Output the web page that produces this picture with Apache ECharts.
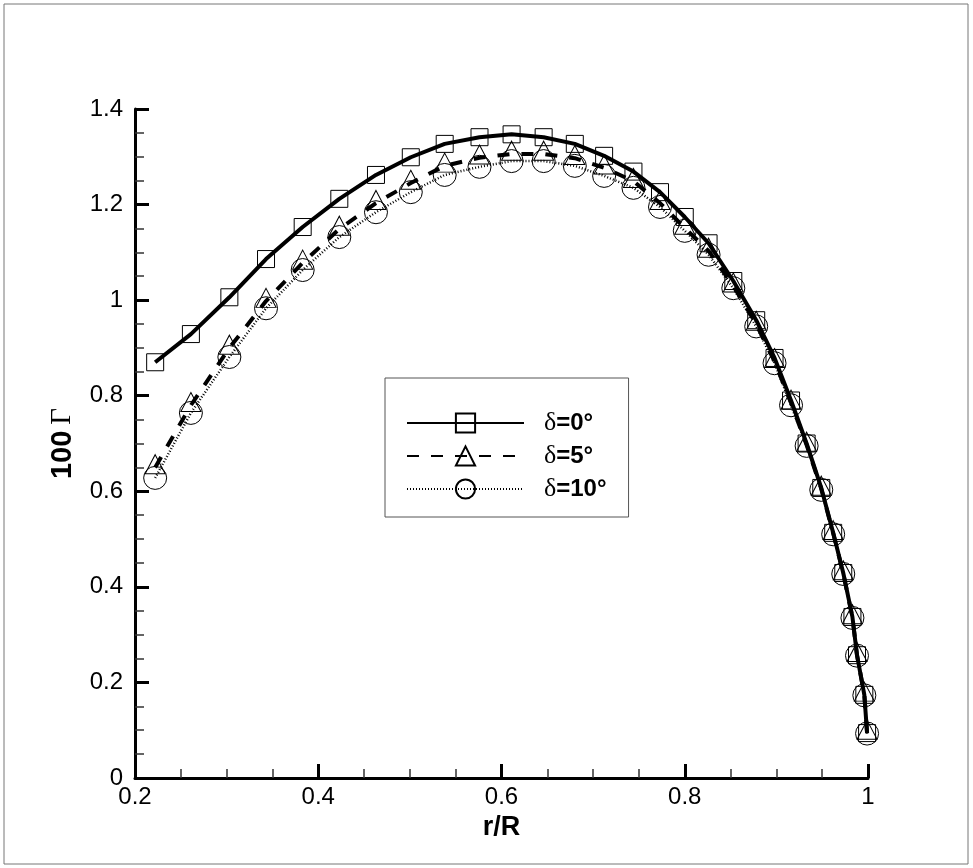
<!DOCTYPE html>
<html>
<head>
<meta charset="utf-8">
<script src="https://cdn.jsdelivr.net/npm/echarts@6/dist/echarts.min.js"></script>
<style>
  html, body { margin: 0; padding: 0; background: #fff; }
  #chart { width: 973px; height: 868px; }
</style>
</head>
<body>
<div id="chart"></div>
<script>
// r/R stations (same for all three cases)
var rR = [0.222, 0.261, 0.303, 0.343, 0.383, 0.423, 0.463, 0.501, 0.538, 0.576,
          0.611, 0.646, 0.680, 0.712, 0.744, 0.773, 0.800, 0.826, 0.853, 0.878,
          0.898, 0.916, 0.933, 0.949, 0.962, 0.973, 0.983, 0.988, 0.996, 0.999];
// 100*Gamma, delta = 0 deg
var gamma0 = [0.870, 0.929, 1.006, 1.086, 1.153, 1.212, 1.262, 1.299, 1.327, 1.341,
              1.347, 1.341, 1.327, 1.302, 1.269, 1.226, 1.174, 1.119, 1.040, 0.958,
              0.879, 0.790, 0.700, 0.607, 0.513, 0.429, 0.337, 0.257, 0.174, 0.094];
// delta = 5 deg
var gamma5 = [0.650, 0.780, 0.900, 0.998, 1.078, 1.149, 1.203, 1.245, 1.281, 1.298,
              1.306, 1.306, 1.297, 1.277, 1.249, 1.203, 1.151, 1.103, 1.030, 0.950,
              0.872, 0.785, 0.697, 0.605, 0.512, 0.428, 0.336, 0.257, 0.174, 0.094];
// delta = 10 deg
var gamma10 = [0.628, 0.764, 0.881, 0.983, 1.063, 1.132, 1.184, 1.226, 1.262, 1.279,
               1.291, 1.291, 1.281, 1.260, 1.235, 1.195, 1.145, 1.095, 1.025, 0.945,
               0.868, 0.780, 0.695, 0.603, 0.510, 0.427, 0.335, 0.256, 0.173, 0.093];
var names = ['δ=0°', 'δ=5°', 'δ=10°'];
var xTicks = { min: 0.2, max: 1, step: 0.2 };
var yTicks = { min: 0, max: 1.4, step: 0.2 };

function pairs(ys) {
  return rR.map(function (x, i) { return [x, ys[i]]; });
}

var chart = echarts.init(document.getElementById('chart'));
var sans = 'Liberation Sans';
var serif = 'Liberation Serif';
var hollow = { color: 'transparent', borderColor: '#000', borderWidth: 1 };

var option = {
  animation: false,
  backgroundColor: '#fff',
  graphic: [{
    type: 'rect',
    shape: { x: 4, y: 4, width: 964, height: 860 },
    style: { fill: 'none', stroke: '#777', lineWidth: 1 },
    silent: true
  }],
  grid: { left: 135, right: 105, top: 109, bottom: 90 },
  legend: {
    orient: 'vertical',
    left: 385,
    top: 378,
    padding: [32, 22, 15, 21],
    itemGap: 7,
    itemWidth: 117,
    itemHeight: 24,
    backgroundColor: '#fff',
    borderColor: '#555',
    borderWidth: 1,
    borderRadius: 0,
    data: names,
    formatter: function (n) {
      return '{d|δ}{b|' + n.slice(1) + '}';
    },
    textStyle: {
      color: '#000',
      rich: {
        d: { fontFamily: serif, fontSize: 26, color: '#000', padding: [0, 0, 0, 15] },
        b: { fontFamily: sans, fontSize: 24, fontWeight: 'bold', color: '#000' }
      }
    }
  },
  xAxis: {
    type: 'value',
    min: xTicks.min,
    max: xTicks.max,
    interval: xTicks.step,
    name: 'r/R',
    nameLocation: 'middle',
    nameGap: 33,
    nameTextStyle: { fontFamily: sans, fontSize: 27, fontWeight: 'bold', color: '#000' },
    axisLine: { lineStyle: { color: '#000', width: 3 } },
    axisTick: { inside: true, length: 14, lineStyle: { color: '#000', width: 3 } },
    minorTick: { show: true, splitNumber: 4, length: 9, lineStyle: { color: '#333', width: 1.5 } },
    axisLabel: { fontFamily: sans, fontSize: 24, color: '#000', margin: 7 },
    splitLine: { show: false }
  },
  yAxis: {
    type: 'value',
    min: yTicks.min,
    max: yTicks.max,
    interval: yTicks.step,
    name: '{b|100}{g|Γ}',
    nameLocation: 'middle',
    nameGap: 58,
    nameTextStyle: {
      rich: {
        b: { fontFamily: sans, fontSize: 29, fontWeight: 'bold', color: '#000' },
        g: { fontFamily: serif, fontSize: 29, color: '#000', padding: [0, 0, 0, 6] }
      }
    },
    axisLine: { lineStyle: { color: '#000', width: 3 } },
    axisTick: { inside: true, length: 14, lineStyle: { color: '#000', width: 3 } },
    minorTick: { show: true, splitNumber: 4, length: 9, lineStyle: { color: '#333', width: 1.5 } },
    axisLabel: { fontFamily: sans, fontSize: 24, color: '#000', margin: 12 },
    splitLine: { show: false }
  },
  series: [
    {
      name: names[0],
      type: 'line',
      data: pairs(gamma0),
      symbol: 'rect',
      symbolSize: 17,
      itemStyle: hollow,
      lineStyle: { color: '#000', width: 4, type: 'solid' },
      z: 3
    },
    {
      name: names[1],
      type: 'line',
      data: pairs(gamma5),
      symbol: 'triangle',
      symbolSize: [20, 19],
      symbolOffset: [0, '-17%'],
      itemStyle: hollow,
      lineStyle: { color: '#000', width: 4, type: [12, 12] },
      z: 2
    },
    {
      name: names[2],
      type: 'line',
      data: pairs(gamma10),
      symbol: 'circle',
      symbolSize: 23,
      itemStyle: hollow,
      lineStyle: { color: '#000', width: 2.5, type: [1, 2] },
      z: 1
    }
  ]
};
chart.setOption(option);
</script>
</body>
</html>
